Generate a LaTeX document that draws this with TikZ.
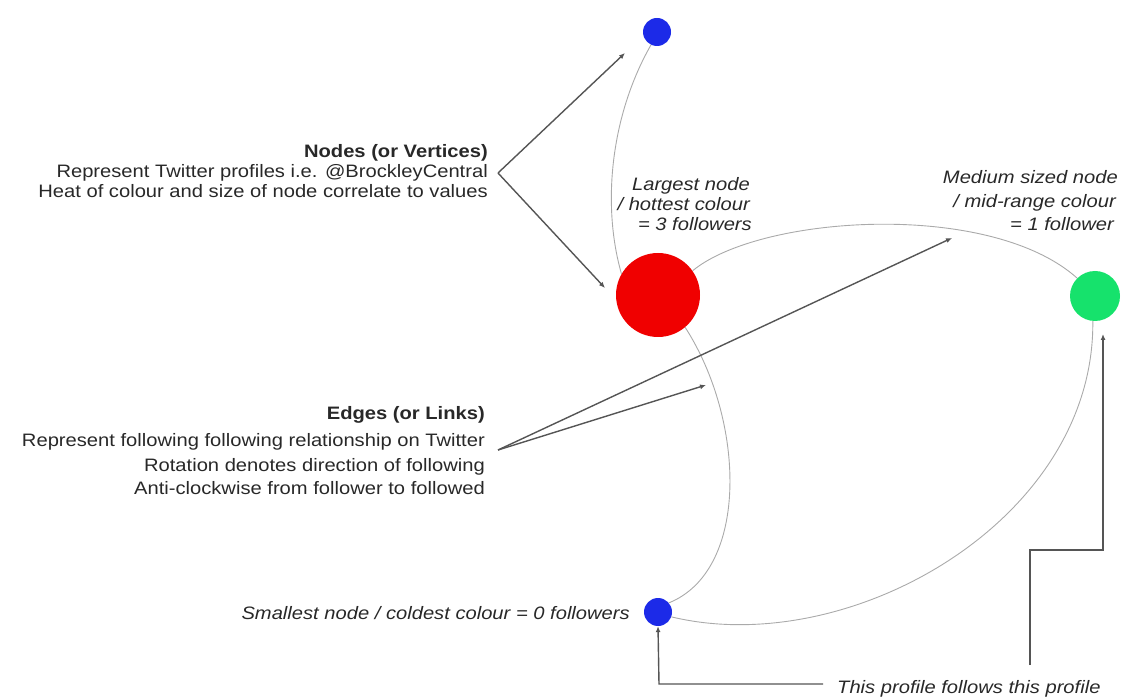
\documentclass[tikz,border=0pt]{standalone}
\usepackage{fontspec}
\setmainfont{Liberation Sans}[FakeStretch=1.12]
\usetikzlibrary{arrows.meta}
\definecolor{nblue}{RGB}{28,42,232}
\definecolor{nred}{RGB}{240,0,0}
\definecolor{ngreen}{RGB}{22,226,108}
\definecolor{edgegray}{RGB}{170,170,170}
\definecolor{callgray}{RGB}{85,85,85}
\definecolor{txtgray}{RGB}{40,40,40}
\begin{document}
\begin{tikzpicture}[x=1pt,y=1pt,
  lbl/.style={inner sep=0pt, text=txtgray, font=\fontsize{18}{20}\selectfont},
  lblb/.style={lbl, font=\fontsize{18}{20}\selectfont\bfseries},
  lbli/.style={lbl, font=\fontsize{18}{20}\selectfont\itshape},
  vert/.style={circle, inner sep=0pt, draw=none},
  edge/.style={draw=edgegray, line width=0.9pt},
  call/.style={draw=callgray, line width=1.4pt, -{Latex[length=6pt,width=5pt]}},
  callline/.style={draw=callgray, line width=1.4pt}
]
\useasboundingbox (0,0) rectangle (1127,-700);

% vertices
\node[vert, fill=nblue, minimum size=28pt] (tb) at (657,-32) {};
\node[vert, fill=nred, minimum size=84pt] (rd) at (658,-295) {};
\node[vert, fill=ngreen, minimum size=50pt] (gr) at (1095,-296) {};
\node[vert, fill=nblue, minimum size=28pt] (bb) at (658,-612) {};

% edges
\draw[edge] (tb.245) .. controls +(-40,-70) and +(-20,70) .. (rd.150);
\draw[edge] (rd.35) .. controls (760,-215) and (990,-200) .. (gr.135);
\draw[edge] (rd.-50) .. controls (745,-420) and (750,-570) .. (bb.40);
\draw[edge] (bb.-20) .. controls (850,-660) and (1095,-520) .. (gr.-95);

% text: nodes block
\node[lblb, anchor=base east] (nt1) at (488,-158) {Nodes (or Vertices)};
\node[lbl, anchor=base east] (nt2) at (488,-178) {Represent Twitter profiles i.e. @BrockleyCentral};
\node[lbl, anchor=base east] (nt3) at (488,-198) {Heat of colour and size of node correlate to values};

% text: edges block
\node[lblb, anchor=base east] (et1) at (485,-419) {Edges (or Links)};
\node[lbl, anchor=base east] (et2) at (485,-446) {Represent following following relationship on Twitter};
\node[lbl, anchor=base east] (et3) at (485,-471) {Rotation denotes direction of following};
\node[lbl, anchor=base east] (et4) at (485,-494) {Anti-clockwise from follower to followed};

% largest node label
\node[lbli, anchor=base east] (lg1) at (750,-191) {Largest node};
\node[lbli, anchor=base east] (lg2) at (750,-211) {/ hottest colour};
\node[lbli, anchor=base east] (lg3) at (752,-231) {= 3 followers};

% medium node label
\node[lbli, anchor=base east] (md1) at (1118,-184) {Medium sized node};
\node[lbli, anchor=base east] (md2) at (1116,-208) {/ mid-range colour};
\node[lbli, anchor=base east] (md3) at (1114,-231) {= 1 follower};

% smallest node label
\node[lbli, anchor=base east] (sm) at (630,-619) {Smallest node / coldest colour = 0 followers};

% follows label
\node[lbli, anchor=base west] (fl) at (837,-693) {This profile follows this profile};

% callouts
\coordinate (napex) at (498,-173);
\coordinate (ntip1) at (625,-53);
\coordinate (ntip2) at (605,-288);
\draw[call] (napex) -- (ntip1);
\draw[call] (napex) -- (ntip2);

\coordinate (eapex) at (498,-450);
\coordinate (etip1) at (952,-238);
\coordinate (etip2) at (706,-385);
\draw[call] (eapex) -- (etip1);
\draw[call] (eapex) -- (etip2);

\coordinate (fa) at (823,-684);
\coordinate (fb) at (659,-684);
\draw[call] (fa) -- (fb) -- (bb.south);

\coordinate (ga) at (1030,-665);
\coordinate (gb) at (1030,-550);
\coordinate (gc) at (1103,-550);
\coordinate (gtip) at (1103,-334);
\draw[call] (ga) -- (gb) -- (gc) -- (gtip);
\end{tikzpicture}
\end{document}
